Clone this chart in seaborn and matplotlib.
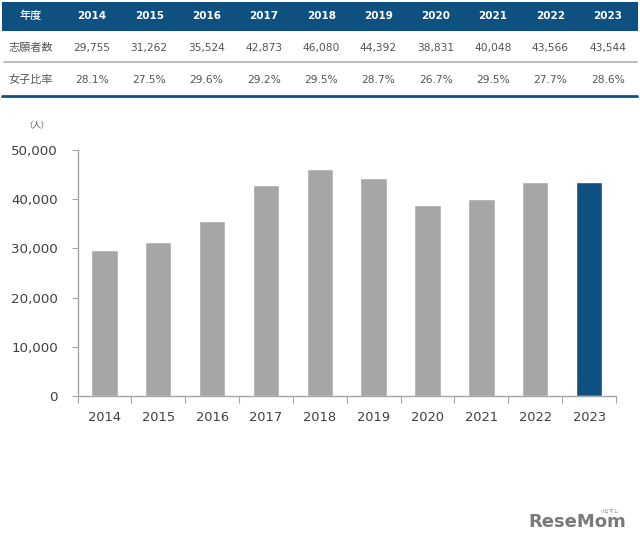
import matplotlib
matplotlib.use("Agg")
import matplotlib.pyplot as plt
import seaborn as sns
from matplotlib.patches import Rectangle
from matplotlib.lines import Line2D

years = ["2014", "2015", "2016", "2017", "2018", "2019", "2020", "2021", "2022", "2023"]
applicants = [29755, 31262, 35524, 42873, 46080, 44392, 38831, 40048, 43566, 43544]
female_ratio = ["28.1%", "27.5%", "29.6%", "29.2%", "29.5%", "28.7%", "26.7%", "29.5%", "27.7%", "28.6%"]
row_labels = ["年度", "志願者数", "女子比率"]
yticks = [0, 10000, 20000, 30000, 40000, 50000]
unit_label = "（人）"

BLUE = "#0e5180"
GRAY = "#a6a6a6"

sns.set_theme(style="white")
plt.rcParams["font.family"] = ["DejaVu Sans", "Noto Sans CJK JP"]

W, H = 640, 548
fig = plt.figure(figsize=(6.4, 5.48), dpi=100)

def fx(px):
    return px / W

def fy(py):
    return 1 - py / H

# ---- table ----
fig.patches.append(Rectangle((fx(2), fy(31)), fx(636), 29 / H, transform=fig.transFigure,
                             facecolor=BLUE, edgecolor="none", zorder=0))
fig.lines.append(Line2D([fx(4), fx(637)], [fy(62.3), fy(62.3)], transform=fig.transFigure,
                        color="#b0b0b0", lw=1.2))
fig.lines.append(Line2D([fx(2), fx(637)], [fy(95.7), fy(95.7)], transform=fig.transFigure,
                        color=BLUE, lw=2.0))

cjk = ["Noto Sans CJK JP", "DejaVu Sans"]
label_x = 31
row_y = [16, 47.5, 80]
fig.text(fx(label_x), fy(row_y[0]), row_labels[0], color="white", fontsize=8,
         ha="center", va="center", family=cjk, fontweight="medium")
fig.text(fx(label_x), fy(row_y[1]), row_labels[1], color="#555555", fontsize=8,
         ha="center", va="center", family=cjk)
fig.text(fx(label_x), fy(row_y[2]), row_labels[2], color="#555555", fontsize=8,
         ha="center", va="center", family=cjk)

col_x0, col_dx = 92, 57.3
for i, yr in enumerate(years):
    cx = col_x0 + i * col_dx
    fig.text(fx(cx), fy(row_y[0]), yr, color="white", fontsize=7.5, fontweight="semibold",
             ha="center", va="center")
    fig.text(fx(cx), fy(row_y[1]), f"{applicants[i]:,}", color="#555555", fontsize=7.7,
             ha="center", va="center")
    fig.text(fx(cx), fy(row_y[2]), female_ratio[i], color="#555555", fontsize=7.7,
             ha="center", va="center")

# ---- chart ----
ax = fig.add_axes([fx(77.5), fy(396), fx(616 - 77.5), (396 - 150) / H])
colors = [GRAY] * (len(years) - 1) + [BLUE]
sns.barplot(x=years, y=applicants, hue=years, palette=colors, legend=False,
            width=0.49, saturation=1, ax=ax)
ax.set_xlim(-0.5, len(years) - 0.5)
ax.set_ylim(0, 50000)
ax.set_yticks(yticks)
ax.set_yticklabels([f"{v:,}" for v in yticks])
ax.set_xlabel("")
ax.set_ylabel("")

for s in ["top", "right"]:
    ax.spines[s].set_visible(False)
for s in ["left", "bottom"]:
    ax.spines[s].set_color("#a6a6a6")
    ax.spines[s].set_linewidth(1.0)

ax.tick_params(axis="y", which="major", direction="out", length=4, width=0.8,
               color="#a6a6a6", labelsize=9.6, labelcolor="#404040", pad=10, left=True)
ax.tick_params(axis="x", which="major", length=0, labelsize=9.4, labelcolor="#404040", pad=11)
ax.set_xticks([i - 0.5 for i in range(len(years) + 1)], minor=True)
ax.tick_params(axis="x", which="minor", direction="out", length=5, width=0.8,
               color="#a6a6a6", bottom=True)

fig.text(fx(37), fy(125), unit_label, fontsize=6, color="#555555", ha="center",
         va="center", family=cjk)

# ---- logo ----
fig.text(fx(577), fy(522), "ReseMom", fontsize=13, fontweight="bold", color="#7a7a7a",
         ha="center", va="center", family=["DejaVu Sans"])
fig.text(fx(610), fy(511), "リセマム", fontsize=3.5, color="#7a7a7a",
         ha="center", va="center", family=cjk)

fig.savefig("out.png", dpi=100)
